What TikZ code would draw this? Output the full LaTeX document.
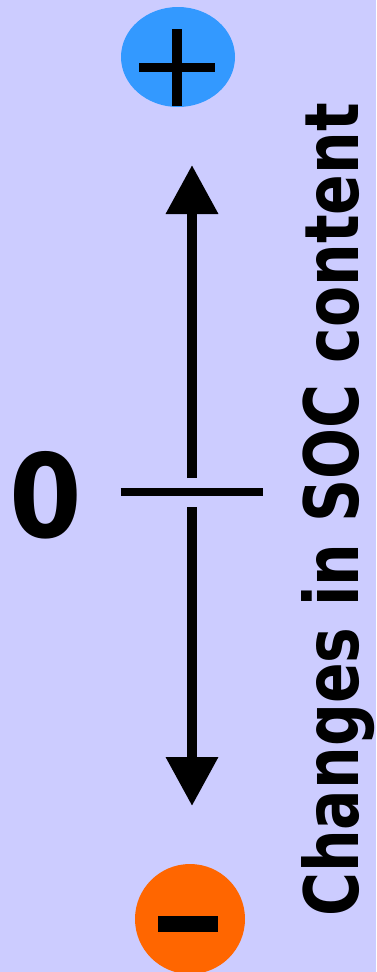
\documentclass[tikz,border=0pt]{standalone}
\usepackage{fontspec}
\setmainfont{DejaVu Sans}
\usetikzlibrary{arrows.meta,shapes.geometric}
\definecolor{bgc}{HTML}{CCCCFF}
\definecolor{plusblue}{HTML}{3399FF}
\definecolor{minusorange}{HTML}{FF6600}
\tikzset{
  bar/.style={fill=black,draw=none},
  axisarrow/.style={line width=10pt,-{Triangle[width=50pt,length=49pt]}},
  tickline/.style={line width=8pt},
}
\begin{document}
\begin{tikzpicture}[x=1pt,y=-1pt]
\fill[bgc] (0,0) rectangle (376,972);
\useasboundingbox (0,0) rectangle (376,972);
% plus circle
\node[ellipse,fill=plusblue,minimum width=114pt,minimum height=100pt,inner sep=0pt] (plus) at (178,57) {};
\fill[bar] (172,29) rectangle (182,106);
\fill[bar] (139,63) rectangle (215,72);
% minus circle
\node[circle,fill=minusorange,minimum size=110pt,inner sep=0pt] (minus) at (190,919) {};
\fill[bar] (158,916) rectangle (218,932);
% axis
\coordinate (upstart) at (192,478);
\coordinate (uptip) at (192,165);
\coordinate (downstart) at (192,507);
\coordinate (downtip) at (192,806);
\coordinate (tickl) at (120.5,492);
\coordinate (tickr) at (263,492);
\draw[axisarrow] (upstart) -- (uptip);
\draw[axisarrow] (downstart) -- (downtip);
\draw[tickline] (tickl) -- (tickr);
% labels
\node[anchor=base,inner sep=0pt,font=\fontsize{116}{120}\selectfont\bfseries] (zero) at (46,537) {\scalebox{0.9}[1]{0}};
\node[anchor=base west,rotate=90,inner sep=0pt,font=\fontsize{75}{80}\selectfont\bfseries] (title) at (358,917) {\scalebox{0.80}[1]{Changes in SOC content}};
\end{tikzpicture}
\end{document}
